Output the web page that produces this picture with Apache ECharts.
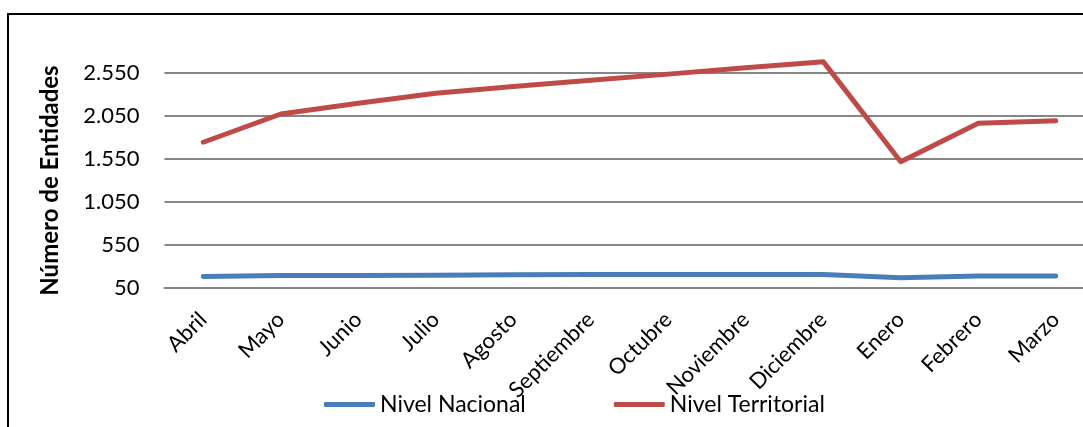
<!DOCTYPE html>
<html>
<head>
<meta charset="utf-8">
<script src="https://cdn.jsdelivr.net/npm/echarts@6/dist/echarts.min.js"></script>
<style>
html,body{margin:0;padding:0;overflow:hidden;background:#fff;width:1083px;height:427px;}
#frame{position:absolute;left:7px;top:13px;width:1120px;height:440px;border:2px solid #000;box-sizing:border-box;}
#chart{position:absolute;left:0;top:0;width:1100px;height:427px;}
</style>
</head>
<body>
<div id="frame"></div>
<div id="chart"></div>
<script>
const categories = ['Abril','Mayo','Junio','Julio','Agosto','Septiembre','Octubre','Noviembre','Diciembre','Enero','Febrero','Marzo'];
const nivelNacional = [185, 195, 195, 197, 205, 207, 207, 207, 207, 168, 190, 190];
const nivelTerritorial = [1745, 2073, 2198, 2314, 2393, 2465, 2537, 2610, 2682, 1519, 1965, 1996];
const yTicks = {min: 50, max: 2550, interval: 500};
const seriesNames = ['Nivel Nacional', 'Nivel Territorial'];

const FONT = 'Lato';
const chart = echarts.init(document.getElementById('chart'), null, {renderer: 'canvas'});
chart.setOption({
  animation: false,
  backgroundColor: 'transparent',
  grid: {left: 164.5, right: 5.5, top: 73, bottom: 139, containLabel: false},
  xAxis: {
    type: 'category',
    data: categories,
    boundaryGap: true,
    axisLine: {show: true, lineStyle: {color: '#868686', width: 2}},
    axisTick: {show: false},
    axisLabel: {rotate: 45, margin: 28, color: '#000', fontFamily: FONT, fontSize: 22, interval: 0}
  },
  yAxis: {
    type: 'value',
    min: yTicks.min, max: yTicks.max, interval: yTicks.interval,
    name: 'Número de Entidades',
    nameLocation: 'middle',
    nameGap: 102,
    nameRotate: 90,
    nameTextStyle: {color: '#000', fontFamily: FONT, fontSize: 24, fontWeight: 'bold'},
    axisLine: {show: false},
    axisTick: {show: false},
    splitLine: {show: true, lineStyle: {color: '#868686', width: 2}},
    axisLabel: {
      margin: 25, color: '#000', fontFamily: FONT, fontSize: 22,
      formatter: v => String(v).replace(/^(\d)(\d{3})$/, '$1.$2')
    }
  },
  legend: {
    left: 319, top: 388,
    itemWidth: 51, itemHeight: 5, itemGap: 88,
    icon: 'roundRect',
    textStyle: {color: '#000', fontFamily: FONT, fontSize: 23},
    data: seriesNames
  },
  series: [
    {name: seriesNames[0], type: 'line', data: nivelNacional, symbol: 'none', clip: false,
     itemStyle: {color: '#4A7EBB'}, lineStyle: {color: '#4A7EBB', width: 5, cap: 'round', join: 'round'}},
    {name: seriesNames[1], type: 'line', data: nivelTerritorial, symbol: 'none', clip: false,
     itemStyle: {color: '#BE4B48'}, lineStyle: {color: '#BE4B48', width: 5, cap: 'round', join: 'round'}}
  ]
});
</script>
</body>
</html>
